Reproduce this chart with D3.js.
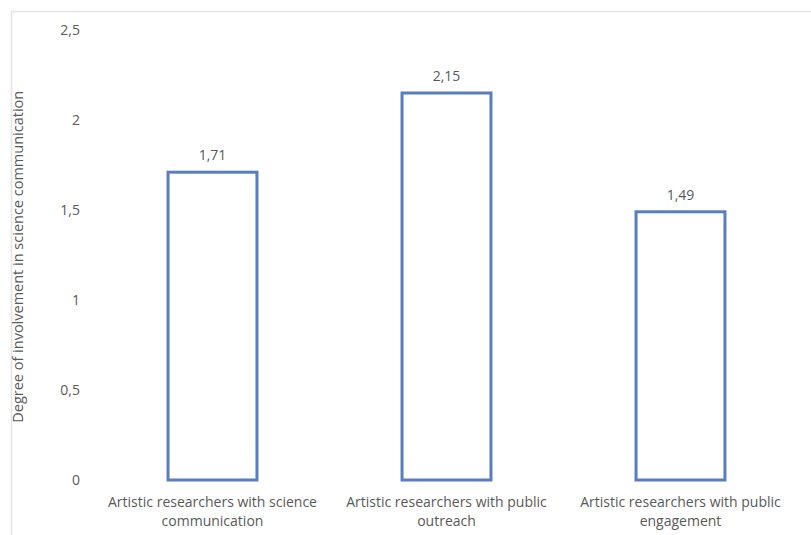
<!DOCTYPE html>
<html>
<head>
<meta charset="utf-8">
<script src="https://cdn.jsdelivr.net/npm/d3@7.9.0/dist/d3.min.js"></script>
<style>
  body { margin: 0; background: #fff; }
  svg text { font-family: "Open Sans", sans-serif; fill: #595959; }
</style>
</head>
<body>
<svg width="811" height="535"></svg>
<script>
const categories = [
  ['Artistic researchers with science', 'communication'],
  ['Artistic researchers with public', 'outreach'],
  ['Artistic researchers with public', 'engagement']
];
const values = [1.71, 2.15, 1.49];
const yTicks = [0, 0.5, 1, 1.5, 2, 2.5];
const yTitle = 'Degree of involvement in science communication';

const svg = d3.select('svg');
const fmt = d => String(d).replace('.', ',');

// chart frame
svg.append('line').attr('x1', 11).attr('x2', 811).attr('y1', 11.5).attr('y2', 11.5)
  .attr('stroke', '#e4e4e4').attr('stroke-width', 1.5);
svg.append('line').attr('x1', 11.5).attr('x2', 11.5).attr('y1', 11).attr('y2', 535)
  .attr('stroke', '#e4e4e4').attr('stroke-width', 1.5);

let x = d3.scaleBand().domain(d3.range(values.length)).range([95.5, 797.5]).paddingInner(0.62).paddingOuter(0.31);
let y = d3.scaleLinear().domain([0, 2.5]).range([480, 30]);

// y tick labels
svg.selectAll('.ytick').data(yTicks).join('text')
  .attr('class', 'ytick')
  .attr('x', 80).attr('y', d => y(d)).attr('dy', '0.35em')
  .attr('text-anchor', 'end').attr('font-size', 14)
  .text(fmt);

// y title
svg.append('text')
  .attr('transform', `translate(23,${y(1.24)}) rotate(-90)`)
  .attr('text-anchor', 'middle').attr('font-size', 14.5)
  .text(yTitle);

// bars
svg.selectAll('.bar').data(values).join('rect')
  .attr('class', 'bar')
  .attr('x', (d, i) => x(i)).attr('width', x.bandwidth())
  .attr('y', d => y(d)).attr('height', d => y(0) - y(d))
  .attr('fill', 'none').attr('stroke', '#5a7ebd').attr('stroke-width', 3);

// value labels
svg.selectAll('.val').data(values).join('text')
  .attr('class', 'val')
  .attr('x', (d, i) => x(i) + x.bandwidth() / 2).attr('y', d => y(d) - 12)
  .attr('text-anchor', 'middle').attr('font-size', 14)
  .text(fmt);

// category labels
categories.forEach((lines, i) => {
  const t = svg.append('text')
    .attr('text-anchor', 'middle').attr('font-size', 14);
  lines.forEach((l, j) => {
    t.append('tspan').attr('x', x(i) + x.bandwidth() / 2).attr('y', 507 + j * 19).text(l);
  });
});
</script>
</body>
</html>
